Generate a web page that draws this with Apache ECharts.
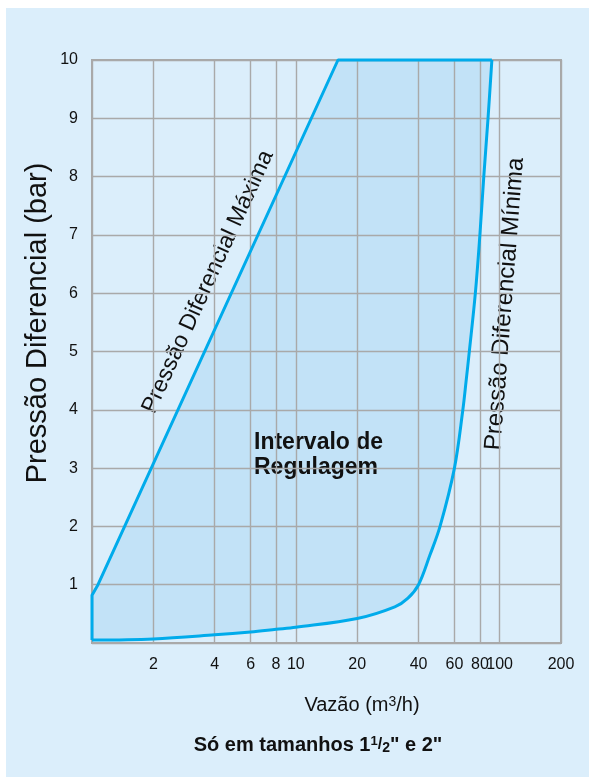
<!DOCTYPE html>
<html>
<head>
<meta charset="utf-8">
<script src="https://cdn.jsdelivr.net/npm/echarts@6/dist/echarts.min.js"></script>
<style>
html,body{margin:0;padding:0;background:#ffffff;}
#chart{width:589px;height:779px;}
</style>
</head>
<body>
<div id="chart"></div>
<script>
// ---- data (flow in m3/h, pressure in bar) ----
const xTickValues = [2, 4, 6, 8, 10, 20, 40, 60, 80, 100, 200];
const yTickValues = [1, 2, 3, 4, 5, 6, 7, 8, 9, 10];
const xAxisMin = 1;
const xAxisMax = 200;
// left edge + maximum differential pressure line + top edge
const maxLineX = [1, 1, 1.07, 16.1, 91.6];
const maxLineY = [0.05, 0.82, 1.0, 10, 10];
// minimum differential pressure curve (top to bottom)
const minCurveX = [91.6, 87.7, 83.6, 80, 76, 71, 68.5, 66, 60, 51, 45.4, 40, 35.5, 30.6, 20, 10, 8, 6, 4, 2, 1];
const minCurveY = [10, 9, 8, 7, 6, 5, 4.5, 4, 3, 2, 1.5, 1, 0.77, 0.62, 0.42, 0.27, 0.235, 0.19, 0.14, 0.07, 0.05];

const FONT = '"Liberation Sans", Arial, Helvetica, sans-serif';
const lg = v => Math.log10(v);

const maxLineData = maxLineX.map((x, i) => [lg(x), maxLineY[i]]);
const minCurveData = minCurveX.map((x, i) => [lg(x), minCurveY[i]]);
const fillData = maxLineData.concat(minCurveData.slice(1));

const chart = echarts.init(document.getElementById('chart'), null, {renderer: 'canvas'});

const gridColor = '#a9a9a9';
const lineColor = '#00abeb';

chart.setOption({
  backgroundColor: '#ffffff',
  animation: false,
  grid: {
    left: 92, right: 28, top: 60, bottom: 136,
    show: true, borderColor: gridColor, borderWidth: 2, backgroundColor: 'transparent'
  },
  xAxis: {
    type: 'value',
    min: lg(xAxisMin),
    max: lg(xAxisMax),
    axisLine: {show: true, lineStyle: {color: gridColor, width: 2}},
    axisTick: {show: false, customValues: [lg(xAxisMin)].concat(xTickValues.map(lg))},
    axisLabel: {
      customValues: xTickValues.map(lg),
      formatter: v => String(Math.round(Math.pow(10, v))),
      fontSize: 16, color: '#111', fontFamily: FONT, margin: 14
    },
    splitLine: {show: true, lineStyle: {color: gridColor, width: 1.4}}
  },
  yAxis: {
    type: 'value',
    min: 0, max: 10, interval: 1,
    axisLine: {show: true, lineStyle: {color: gridColor, width: 2}},
    axisTick: {show: false},
    axisLabel: {
      formatter: v => (yTickValues.indexOf(v) >= 0 ? String(v) : ''),
      fontSize: 16, color: '#111', fontFamily: FONT, margin: 14
    },
    splitLine: {show: true, lineStyle: {color: gridColor, width: 1.4}}
  },
  series: [
    {
      type: 'custom',
      z: -1,
      silent: true,
      data: fillData,
      encode: {x: 0, y: 1},
      renderItem: function (params, api) {
        if (params.dataIndex !== 0) return null;
        const pts = fillData.map(p => api.coord(p));
        return {type: 'polygon', shape: {points: pts}, style: {fill: '#c2e2f7'}};
      }
    },
    {
      type: 'line',
      data: maxLineData,
      showSymbol: false,
      clip: false,
      silent: true,
      lineStyle: {color: lineColor, width: 3}
    },
    {
      type: 'line',
      data: minCurveData,
      showSymbol: false,
      smooth: 0.35,
      clip: false,
      silent: true,
      lineStyle: {color: lineColor, width: 3}
    }
  ],
  graphic: [
    {type: 'rect', z: -100, silent: true, shape: {x: 6, y: 8, width: 583, height: 769}, style: {fill: '#dbeefb'}},
    {type: 'text', x: 38, y: 323, rotation: Math.PI / 2, silent: true,
      style: {text: 'Pressão Diferencial (bar)', fill: '#111', font: '29px ' + FONT,
        align: 'center', verticalAlign: 'middle', textAlign: 'center', textVerticalAlign: 'middle'}},
    {type: 'text', x: 208, y: 282, rotation: 65.4 * Math.PI / 180, silent: true,
      style: {text: 'Pressão Diferencial Máxima', fill: '#111', font: '23px ' + FONT,
        align: 'center', verticalAlign: 'middle', textAlign: 'center', textVerticalAlign: 'middle'}},
    {type: 'text', x: 505, y: 304, rotation: 85.5 * Math.PI / 180, silent: true,
      style: {text: 'Pressão Diferencial Mínima', fill: '#111', font: '24px ' + FONT,
        align: 'center', verticalAlign: 'middle', textAlign: 'center', textVerticalAlign: 'middle'}},
    {type: 'text', x: 254, y: 430, silent: true,
      style: {text: 'Intervalo de\nRegulagem', fill: '#111', font: 'bold 23px ' + FONT, lineHeight: 25,
        align: 'left', verticalAlign: 'top', textAlign: 'left', textVerticalAlign: 'top'}},
    {type: 'text', x: 362, y: 705, silent: true,
      style: {text: '{n|Vazão (m}{s|3}{n|/h)}', fill: '#111',
        align: 'center', verticalAlign: 'middle', textAlign: 'center', textVerticalAlign: 'middle',
        rich: {
          n: {fontSize: 20, fontFamily: FONT, fill: '#111', color: '#111'},
          s: {fontSize: 14, fontFamily: FONT, fill: '#111', color: '#111', verticalAlign: 'top'}
        }}},
    {type: 'text', x: 318, y: 745, silent: true,
      style: {text: '{b|Só em tamanhos 1}{s|1}{f|/}{t|2}{b|" e 2"}', fill: '#111',
        align: 'center', verticalAlign: 'middle', textAlign: 'center', textVerticalAlign: 'middle',
        rich: {
          b: {fontSize: 20, fontWeight: 'bold', fontFamily: FONT, fill: '#111', color: '#111'},
          s: {fontSize: 13, fontWeight: 'bold', fontFamily: FONT, fill: '#111', color: '#111', verticalAlign: 'top'},
          f: {fontSize: 16, fontWeight: 'bold', fontFamily: FONT, fill: '#111', color: '#111'},
          t: {fontSize: 14, fontWeight: 'bold', fontFamily: FONT, fill: '#111', color: '#111', verticalAlign: 'bottom'}
        }}}
  ]
});
</script>
</body>
</html>
